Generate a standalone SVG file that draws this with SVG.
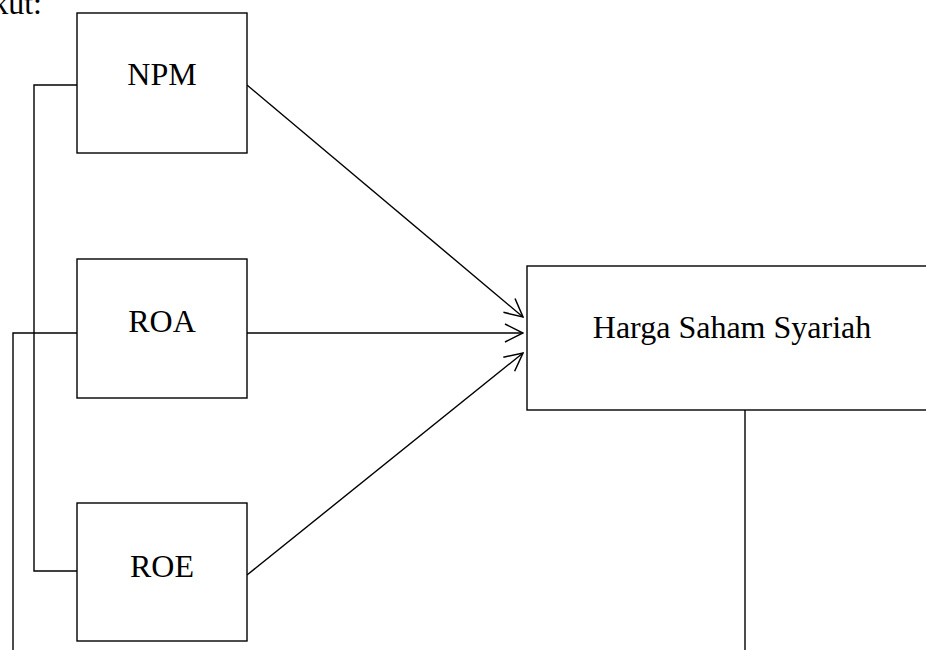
<svg xmlns="http://www.w3.org/2000/svg" width="926" height="650" viewBox="0 0 926 650">
<defs>
<marker id="open" viewBox="0 0 20 20" refX="19" refY="10" markerWidth="20" markerHeight="20" markerUnits="userSpaceOnUse" orient="auto">
<path d="M1,1 L19,10 L1,19" fill="none" stroke="#000" stroke-width="1.5"/>
</marker>
</defs>
<style>
.box{fill:#fff;stroke:#000;stroke-width:1.4}
.lbl{font-family:"Liberation Serif","Times New Roman",serif;font-size:32px;fill:#000}
.ln{fill:none;stroke:#000;stroke-width:1.4}
</style>
<rect width="926" height="650" fill="#fff"/>
<text class="lbl" x="42" y="14" text-anchor="end">kut:</text>
<g id="connectors">
<polyline class="ln" points="77,85 34,85 34,571 77,571"/>
<polyline class="ln" points="77,333 13,333 13,650"/>
<line class="ln" x1="745" y1="410" x2="745" y2="650"/>
<line class="ln" x1="247" y1="85" x2="523" y2="317" marker-end="url(#open)"/>
<line class="ln" x1="247" y1="333" x2="523" y2="333" marker-end="url(#open)"/>
<line class="ln" x1="247" y1="575" x2="523" y2="353" marker-end="url(#open)"/>
</g>
<g id="npm"><rect class="box" x="77" y="13" width="170" height="140"/><text class="lbl" x="162" y="85" text-anchor="middle">NPM</text></g>
<g id="roa"><rect class="box" x="77" y="259" width="170" height="139"/><text class="lbl" x="162" y="332" text-anchor="middle">ROA</text></g>
<g id="roe"><rect class="box" x="77" y="503" width="170" height="138"/><text class="lbl" x="162" y="577" text-anchor="middle">ROE</text></g>
<g id="harga"><rect class="box" x="527" y="266" width="420" height="144"/><text class="lbl" x="732" y="338" text-anchor="middle">Harga Saham Syariah</text></g>
</svg>
